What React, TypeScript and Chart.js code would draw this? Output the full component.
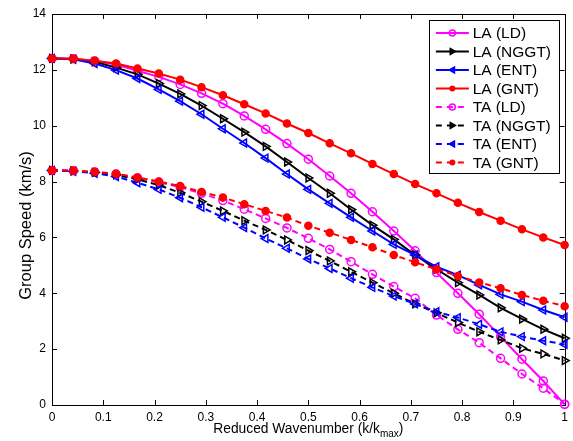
import React, { useEffect, useRef } from "react";
import { Chart, registerables } from "chart.js";

Chart.register(...registerables);

const K = [0, 0.0417, 0.0833, 0.125, 0.1667, 0.2083, 0.25, 0.2917, 0.3333, 0.375, 0.4167, 0.4583, 0.5, 0.5417, 0.5833, 0.625, 0.6667, 0.7083, 0.75, 0.7917, 0.8333, 0.875, 0.9167, 0.9583, 1];

const LA_LD = [12.41, 12.40, 12.32, 12.19, 11.97, 11.75, 11.48, 11.16, 10.79, 10.35, 9.87, 9.36, 8.80, 8.20, 7.58, 6.92, 6.23, 5.52, 4.74, 4.00, 3.25, 2.45, 1.64, 0.86, 0.02];
const LA_NGGT = [12.41, 12.39, 12.29, 12.08, 11.84, 11.51, 11.14, 10.72, 10.25, 9.77, 9.26, 8.70, 8.13, 7.58, 7.00, 6.44, 5.93, 5.37, 4.86, 4.38, 3.94, 3.48, 3.08, 2.71, 2.39];
const LA_ENT = [12.41, 12.38, 12.23, 11.99, 11.69, 11.30, 10.88, 10.41, 9.89, 9.38, 8.84, 8.27, 7.72, 7.22, 6.72, 6.23, 5.75, 5.37, 4.95, 4.65, 4.30, 3.96, 3.70, 3.40, 3.14];
const LA_GNT = [12.41, 12.40, 12.33, 12.23, 12.05, 11.87, 11.65, 11.38, 11.09, 10.77, 10.44, 10.08, 9.74, 9.37, 9.01, 8.63, 8.27, 7.91, 7.58, 7.24, 6.91, 6.60, 6.29, 6.00, 5.73];
const TA_LD = [8.40, 8.39, 8.34, 8.27, 8.13, 7.98, 7.80, 7.58, 7.32, 7.01, 6.68, 6.34, 5.97, 5.57, 5.13, 4.68, 4.24, 3.82, 3.22, 2.71, 2.23, 1.67, 1.11, 0.60, 0.03];
const TA_NGGT = [8.40, 8.38, 8.33, 8.24, 8.08, 7.87, 7.60, 7.28, 6.95, 6.60, 6.27, 5.91, 5.53, 5.16, 4.77, 4.38, 4.00, 3.62, 3.30, 2.95, 2.62, 2.33, 2.03, 1.83, 1.59];
const TA_ENT = [8.40, 8.37, 8.30, 8.18, 7.96, 7.72, 7.42, 7.08, 6.72, 6.35, 5.96, 5.61, 5.23, 4.89, 4.54, 4.21, 3.90, 3.62, 3.34, 3.13, 2.89, 2.62, 2.45, 2.30, 2.17];
const TA_GNT = [8.40, 8.39, 8.35, 8.28, 8.15, 8.00, 7.84, 7.63, 7.43, 7.19, 6.95, 6.71, 6.42, 6.17, 5.91, 5.65, 5.37, 5.11, 4.86, 4.62, 4.39, 4.18, 3.94, 3.73, 3.54];

const LABELS = ["LA (LD)", "LA (NGGT)", "LA (ENT)", "LA (GNT)", "TA (LD)", "TA (NGGT)", "TA (ENT)", "TA (GNT)"];
const SERIES = [LA_LD, LA_NGGT, LA_ENT, LA_GNT, TA_LD, TA_NGGT, TA_ENT, TA_GNT];
const COLORS = ["#ff00ff", "#000000", "#0000ff", "#ff0000", "#ff00ff", "#000000", "#0000ff", "#ff0000"];
const MARKERS = ["circle", "right", "left", "dot", "circle", "right", "left", "dot"];
const DASHED = [false, false, false, false, true, true, true, true];

const X_TITLE = "Reduced Wavenumber (k/k";
const X_SUB = "max";
const Y_TITLE = "Group Speed (km/s)";

const FONT = "'Liberation Sans', Arial, sans-serif";

function drawMarker(ctx: CanvasRenderingContext2D, kind: string, x: number, y: number, r: number, color: string) {
  ctx.save();
  ctx.setLineDash([]);
  ctx.strokeStyle = color;
  ctx.fillStyle = color;
  ctx.lineWidth = 1.5;
  ctx.beginPath();
  if (kind === "circle") {
    ctx.arc(x, y, r, 0, Math.PI * 2);
    ctx.stroke();
  } else if (kind === "dot") {
    ctx.arc(x, y, r, 0, Math.PI * 2);
    ctx.fill();
  } else {
    const d = kind === "right" ? 1 : -1;
    ctx.moveTo(x + d * r, y);
    ctx.lineTo(x - d * r * 0.7, y - r);
    ctx.lineTo(x - d * r * 0.7, y + r);
    ctx.closePath();
    ctx.fill();
    ctx.stroke();
  }
  ctx.restore();
}

const framePlugin = {
  id: "frame",
  beforeDatasetsDraw(chart: any) {
    const { ctx, chartArea: a, scales } = chart;
    ctx.save();
    ctx.strokeStyle = "#000";
    ctx.lineWidth = 1;
    ctx.strokeRect(Math.round(a.left) + 0.5, Math.round(a.top) + 0.5, Math.round(a.right - a.left), Math.round(a.bottom - a.top));
    const tl = 5;
    ctx.beginPath();
    scales.x.ticks.forEach((t: any) => {
      const px = Math.round(scales.x.getPixelForValue(t.value)) + 0.5;
      ctx.moveTo(px, a.bottom);
      ctx.lineTo(px, a.bottom - tl);
      ctx.moveTo(px, a.top);
      ctx.lineTo(px, a.top + tl);
    });
    scales.y.ticks.forEach((t: any) => {
      const py = Math.round(scales.y.getPixelForValue(t.value)) + 0.5;
      ctx.moveTo(a.left, py);
      ctx.lineTo(a.left + tl, py);
      ctx.moveTo(a.right, py);
      ctx.lineTo(a.right - tl, py);
    });
    ctx.stroke();

    // axis titles
    ctx.fillStyle = "#000";
    ctx.textBaseline = "alphabetic";
    const mainFont = "13.8px " + FONT;
    const subFont = "10px " + FONT;
    ctx.font = mainFont;
    const w1 = ctx.measureText(X_TITLE).width;
    const w3 = ctx.measureText(")").width;
    ctx.font = subFont;
    const w2 = ctx.measureText(X_SUB).width;
    const total = w1 + w2 + w3;
    const cx = (a.left + a.right) / 2;
    let sx = cx - total / 2;
    const base = a.bottom + 28;
    ctx.textAlign = "left";
    ctx.font = mainFont;
    ctx.fillText(X_TITLE, sx, base);
    ctx.font = subFont;
    ctx.fillText(X_SUB, sx + w1, base + 4);
    ctx.font = mainFont;
    ctx.fillText(")", sx + w1 + w2, base);

    ctx.save();
    ctx.translate(a.left - 21, (a.top + a.bottom) / 2 + 16);
    ctx.rotate(-Math.PI / 2);
    ctx.font = "16.5px " + FONT;
    ctx.textAlign = "center";
    ctx.fillText(Y_TITLE, 0, 0);
    ctx.restore();
    ctx.restore();
  },
  afterDatasetsDraw(chart: any) {
    const { ctx, chartArea: a } = chart;
    ctx.save();
    const bx = a.right - 135.3;
    const by = a.top + 5.7;
    const bw = 130;
    const bh = 152.7;
    ctx.fillStyle = "#fff";
    ctx.fillRect(bx, by, bw, bh);
    ctx.strokeStyle = "#000";
    ctx.lineWidth = 1;
    ctx.strokeRect(Math.round(bx) + 0.5, Math.round(by) + 0.5, Math.round(bw), Math.round(bh));
    ctx.font = "15.5px " + FONT;
    ctx.textBaseline = "middle";
    ctx.textAlign = "left";
    LABELS.forEach((lab, i) => {
      const y = by + 13.3 + i * 18.5;
      const x0 = bx + 6.5;
      const x1 = bx + 39.5;
      ctx.save();
      ctx.strokeStyle = COLORS[i];
      ctx.lineWidth = 2;
      ctx.setLineDash(DASHED[i] ? [6, 5] : []);
      ctx.beginPath();
      ctx.moveTo(x0, y);
      ctx.lineTo(x1, y);
      ctx.stroke();
      ctx.restore();
      drawMarker(ctx, MARKERS[i], (x0 + x1) / 2, y, 3, COLORS[i]);
      ctx.fillStyle = "#000";
      ctx.fillText(lab, bx + 43.3, y + 1);
    });
    ctx.restore();
  },
};

function pointStyleFor(m: string) {
  if (m === "circle" || m === "dot") return "circle";
  return "triangle";
}

export default function App() {
  const ref = useRef<HTMLCanvasElement>(null);
  useEffect(() => {
    if (!ref.current) return;
    const datasets = SERIES.map((s, i) => ({
      label: LABELS[i],
      data: s.map((v, j) => ({ x: K[j], y: v })),
      borderColor: COLORS[i],
      backgroundColor: MARKERS[i] === "dot" ? COLORS[i] : "rgba(0,0,0,0)",
      borderWidth: 2,
      borderDash: DASHED[i] ? [6, 4] : [],
      pointStyle: pointStyleFor(MARKERS[i]),
      pointRotation: MARKERS[i] === "right" ? 90 : MARKERS[i] === "left" ? -90 : 0,
      pointRadius: MARKERS[i] === "dot" ? 3.5 : MARKERS[i] === "circle" ? 4 : 4.5,
      pointBorderWidth: 1.5,
      pointBorderColor: COLORS[i],
      pointBackgroundColor: MARKERS[i] === "dot" ? COLORS[i] : "rgba(0,0,0,0)",
      tension: 0,
      clip: false as any,
      order: 8 - i,
    }));
    const chart = new Chart(ref.current, {
      type: "line",
      data: { datasets },
      plugins: [framePlugin],
      options: {
        animation: false,
        responsive: false,
        devicePixelRatio: 1,
        layout: { padding: { left: 0, top: 14, right: 7, bottom: 0 } },
        plugins: { legend: { display: false }, tooltip: { enabled: false } },
        scales: {
          x: {
            type: "linear",
            min: 0,
            max: 1,
            afterFit: (s: any) => { s.height = 36; },
            grid: { display: false, drawTicks: false },
            border: { display: false },
            ticks: {
              stepSize: 0.1,
              padding: 5,
              color: "#000",
              font: { family: FONT, size: 12 },
              maxRotation: 0,
              callback: (v: any) => String(Number(Number(v).toFixed(1))),
            },
          },
          y: {
            type: "linear",
            min: 0,
            max: 14,
            afterFit: (s: any) => { s.width = 52; },
            grid: { display: false, drawTicks: false },
            border: { display: false },
            ticks: {
              stepSize: 2,
              padding: 6,
              color: "#000",
              font: { family: FONT, size: 12 },
            },
          },
        },
      },
    });
    return () => chart.destroy();
  }, []);
  return (
    <div style={{ position: "absolute", left: 0, top: 0, width: 573, height: 441, background: "#fff" }}>
      <canvas ref={ref} width={573} height={441} style={{ display: "block", width: 573, height: 441 }} />
    </div>
  );
}
